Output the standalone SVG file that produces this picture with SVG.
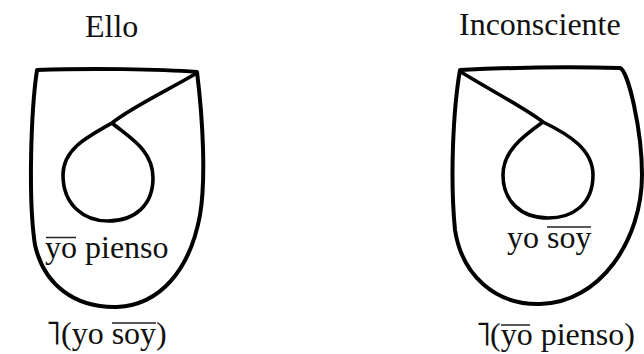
<svg xmlns="http://www.w3.org/2000/svg" width="644" height="354" viewBox="0 0 644 354">
<style>
.shape{fill:none;stroke:#000;stroke-width:4;stroke-linejoin:round;stroke-linecap:round}
.loop{fill:none;stroke:#000;stroke-width:3.6;stroke-linejoin:round;stroke-linecap:round}
.t{font-family:"Liberation Serif","Times New Roman",serif;font-size:32px;fill:#111}
.neg{font-family:"DejaVu Sans",sans-serif;font-size:34px;fill:#111}
.ov{stroke:#222;stroke-width:1.5}
</style>
<rect width="644" height="354" fill="#fff"/>
<g id="ello">
<text class="t" x="85" y="37">Ello</text>
<path class="shape" d="M37,70 C90,68 160,69 197,72 C203,120 206,180 200,215 C190,270 160,305 117,307 C75,308 44,285 35,245 C28,200 31,110 37,70 Z"/>
<path class="loop" d="M197,73 C168,90 130,108 112,123 C85,138 63,150 63,175 C63,205 84,221 108,221 C135,221 153,205 153,178 C153,150 130,138 112,123"/>
<text class="t" x="45" y="258">yo pienso</text>
<line class="ov" x1="46" y1="237.5" x2="76" y2="237.5"/>
<text class="t" x="45" y="344"><tspan class="neg">˥</tspan><tspan x="61">(yo soy)</tspan></text>
<line class="ov" x1="112" y1="323" x2="156" y2="323"/>
</g>
<g id="inconsciente">
<text class="t" x="459" y="35">Inconsciente</text>
<path class="shape" d="M460,70 C520,67 580,67 620,68 C628,70 642,130 642,175 C642,240 600,303 540,304 C495,305 462,275 455,230 C450,180 453,110 460,70 Z"/>
<path class="loop" d="M461,72 C490,90 525,108 543,122 C570,135 593,150 593,175 C593,205 572,218 548,218 C520,218 503,200 503,175 C503,150 525,135 543,122"/>
<text class="t" x="507" y="248">yo soy</text>
<line class="ov" x1="547" y1="227" x2="591" y2="227"/>
<text class="t" x="475" y="345"><tspan class="neg">˥</tspan><tspan x="490">(yo pienso)</tspan></text>
<line class="ov" x1="501" y1="325" x2="530" y2="325"/>
</g>
<g id="connectors"/>
</svg>
